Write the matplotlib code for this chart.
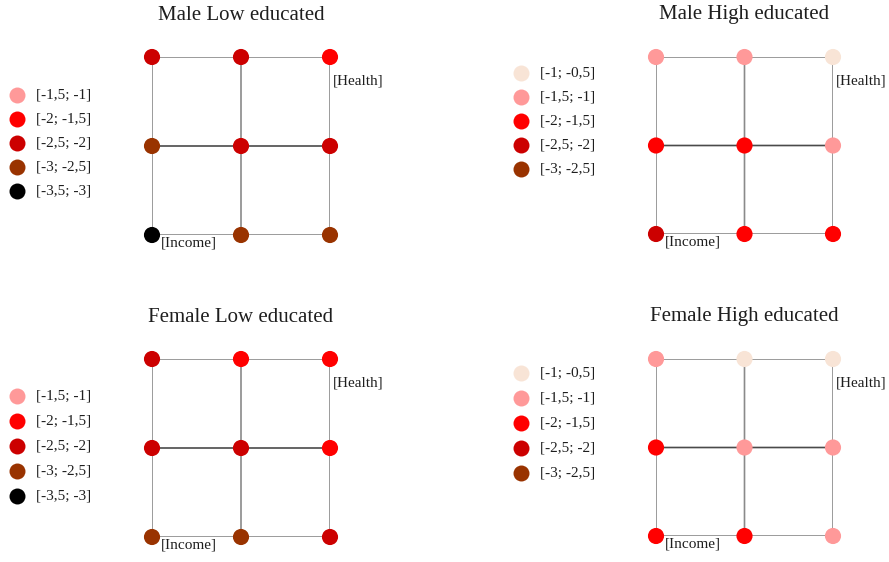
import matplotlib
matplotlib.use("Agg")
import matplotlib.pyplot as plt
from matplotlib.lines import Line2D

plt.rcParams['font.family'] = ['Liberation Serif', 'DejaVu Serif']

W, H = 889, 562

# Value classes (interval label -> colour)
bin_labels = ["[-1; -0,5]", "[-1,5; -1]", "[-2; -1,5]", "[-2,5; -2]", "[-3; -2,5]", "[-3,5; -3]"]
bin_lows = [-1.0, -1.5, -2.0, -2.5, -3.0, -3.5]
bin_colors = ["#F8E4D6", "#FF9999", "#FF0000", "#CC0000", "#993300", "#000000"]

# Grid values, rows from top to bottom, columns left to right
male_low = [[-2.25, -2.25, -1.75],
            [-2.75, -2.25, -2.25],
            [-3.25, -2.75, -2.75]]
male_high = [[-1.25, -1.25, -0.75],
             [-1.75, -1.75, -1.25],
             [-2.25, -1.75, -1.75]]
female_low = [[-2.25, -1.75, -1.75],
              [-2.25, -2.25, -1.75],
              [-2.75, -2.75, -2.25]]
female_high = [[-1.25, -0.75, -0.75],
               [-1.75, -1.25, -1.25],
               [-1.75, -1.75, -1.25]]

titles = ["Male Low educated", "Male High educated", "Female Low educated", "Female High educated"]
panels = [male_low, male_high, female_low, female_high]
legend_bins = [[1, 2, 3, 4, 5], [0, 1, 2, 3, 4], [1, 2, 3, 4, 5], [0, 1, 2, 3, 4]]

# pixel layout: grid box (left, top, size), legend (marker x, top, spacing)
grid_boxes = [(152, 57, 178), (656, 57, 177), (152, 359, 178), (656, 359, 177)]
legend_pos = [(17, 95, 24), (521, 73, 24), (17, 396, 25), (521, 373, 25)]


def color_for(v):
    for lo, c in zip(bin_lows, bin_colors):
        if lo <= v < lo + 0.5:
            return c
    return bin_colors[-1]


fig = plt.figure(figsize=(W / 100, H / 100), dpi=100)
fig.patch.set_facecolor("white")

text_col = "#1e1e1e"
small = 11
for title, grid, lb, (gl, gt, gs), (lx, ly, lsp) in zip(
        titles, panels, legend_bins, grid_boxes, legend_pos):
    ax = fig.add_axes([gl / W, 1 - (gt + gs) / H, gs / W, gs / H])
    ax.set_xlim(0, 2)
    ax.set_ylim(0, 2)
    ax.axis("off")
    for k in range(3):
        ax.plot([k, k], [0, 2], color="#8a8a8a", lw=1.2, zorder=1, snap=False)
    for k in range(3):
        lc = "#4a4a4a" if k == 1 else "#8a8a8a"
        ax.plot([0, 2], [k, k], color=lc, lw=1.2, zorder=1, snap=False)
    xs, ys, cs = [], [], []
    for r, row in enumerate(grid):
        for c, v in enumerate(row):
            xs.append(c)
            ys.append(2 - r)
            cs.append(color_for(v))
    ax.scatter(xs, ys, s=135, c=cs, linewidths=0, zorder=3, clip_on=False)
    ax.text(0.5, 1 + 42 / gs, title, transform=ax.transAxes, ha="center",
            va="center", fontsize=15, color=text_col)
    ax.annotate("[Health]", xy=(2, 2), xytext=(3, -24), textcoords="offset pixels",
                ha="left", va="center", fontsize=small, color=text_col)
    ax.annotate("[Income]", xy=(0, 0), xytext=(9, -8), textcoords="offset pixels",
                ha="left", va="center", fontsize=small, color=text_col)

    # legend of value classes
    for i, b in enumerate(lb):
        y = ly + i * lsp
        fig.add_artist(Line2D([lx / W], [1 - y / H], marker="o", ls="",
                              markersize=11.5, markerfacecolor=bin_colors[b],
                              markeredgewidth=0, transform=fig.transFigure))
        fig.text((lx + 19) / W, 1 - y / H, bin_labels[b], ha="left", va="center",
                 fontsize=small, color=text_col)

fig.savefig("out.png", dpi=100, facecolor="white")
